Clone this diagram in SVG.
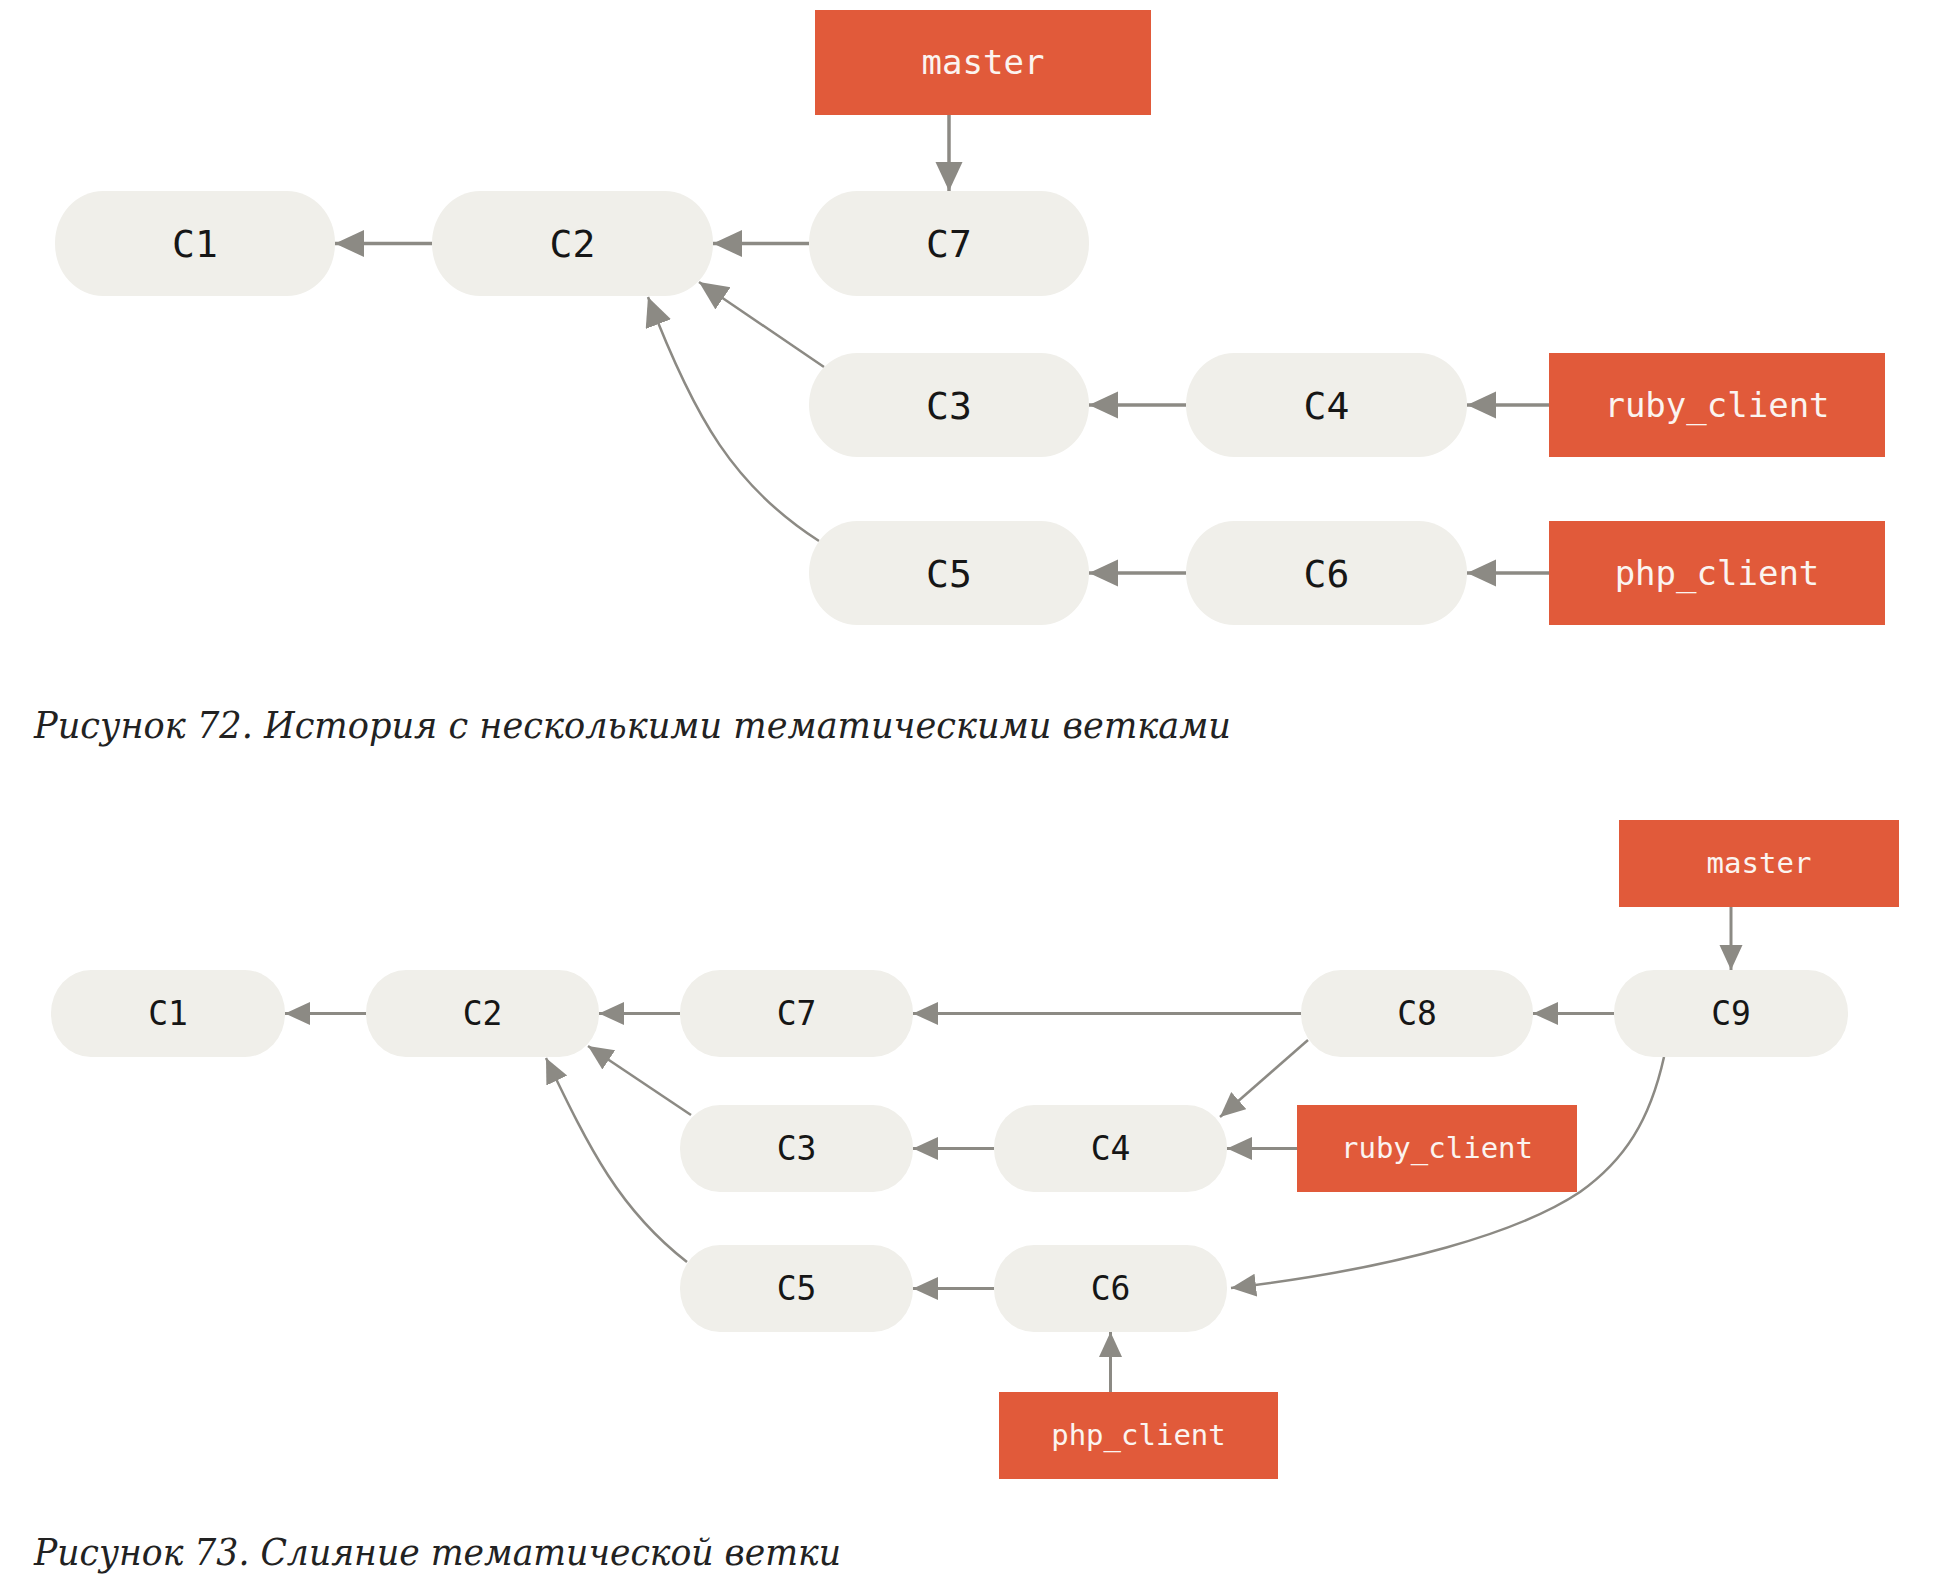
<svg xmlns="http://www.w3.org/2000/svg" width="1940" height="1588" viewBox="0 0 1940 1588">
<style>
.bg{fill:#ffffff}
.commit{fill:#f0efea}
.branch{fill:#e15a3a}
.ct{font-family:"DejaVu Sans Mono","Liberation Mono",monospace;fill:#161616;text-anchor:middle}
.bt{font-family:"DejaVu Sans Mono","Liberation Mono",monospace;fill:#fbf4f0;text-anchor:middle}
.t1{font-size:38px}
.b1{font-size:34px}
.t2{font-size:33px}
.b2{font-size:29px}
.cap{font-family:"DejaVu Serif","Liberation Serif",serif;font-style:italic;fill:#222222;font-size:38px}
.e1{fill:none;stroke:#8c8a84;stroke-width:3.5;marker-end:url(#ah1)}
.e1c{fill:none;stroke:#8c8a84;stroke-width:2.5;marker-end:url(#ah1)}
.e2{fill:none;stroke:#8c8a84;stroke-width:3;marker-end:url(#ah2)}
.e2c{fill:none;stroke:#8c8a84;stroke-width:2.5;marker-end:url(#ah2)}
</style>
<defs>
<marker id="ah1" markerUnits="userSpaceOnUse" markerWidth="30" markerHeight="28" refX="29" refY="13.5" orient="auto" viewBox="0 0 30 28">
<path d="M0,0 L29,13.5 L0,27 z" fill="#8c8a84"/>
</marker>
<marker id="ah2" markerUnits="userSpaceOnUse" markerWidth="26" markerHeight="24" refX="25" refY="11.5" orient="auto" viewBox="0 0 26 24">
<path d="M0,0 L25,11.5 L0,23 z" fill="#8c8a84"/>
</marker>
</defs>
<rect class="bg" x="0" y="0" width="1940" height="1588"/>

<g id="connectors">
<!-- top figure -->
<path class="e1" d="M949,115 L949,191"/>
<path class="e1" d="M432,243.5 L335,243.5"/>
<path class="e1" d="M809,243.5 L713,243.5"/>
<path class="e1c" d="M824,367 L699,282"/>
<path class="e1c" d="M819,541 C735,487 695,420 648,297"/>
<path class="e1" d="M1186,405 L1089,405"/>
<path class="e1" d="M1549,405 L1467,405"/>
<path class="e1" d="M1186,573 L1089,573"/>
<path class="e1" d="M1549,573 L1467,573"/>
<!-- bottom figure -->
<path class="e2" d="M1731,907 L1731,970"/>
<path class="e2" d="M366,1013.5 L285,1013.5"/>
<path class="e2" d="M680,1013.5 L599,1013.5"/>
<path class="e2" d="M1301,1013.5 L913,1013.5"/>
<path class="e2" d="M1614,1013.5 L1533,1013.5"/>
<path class="e2c" d="M1308,1040 L1220,1117"/>
<path class="e2c" d="M691,1115 L588,1046"/>
<path class="e2c" d="M687,1262 C620,1210 590,1150 546,1058"/>
<path class="e2" d="M994,1148.5 L913,1148.5"/>
<path class="e2" d="M1297,1148.5 L1227,1148.5"/>
<path class="e2" d="M994,1288.5 L913,1288.5"/>
<path class="e2c" d="M1664,1057 C1650,1120 1625,1160 1580,1192 C1520,1232 1400,1268 1231,1288"/>
<path class="e2" d="M1110.5,1392 L1110.5,1332"/>
</g>

<!-- top figure nodes -->
<g id="t-master"><rect class="branch" x="815" y="10" width="336" height="105"/><text class="bt b1" x="983" y="74">master</text></g>
<g id="t-C1"><rect class="commit" x="55" y="191" width="280" height="105" rx="48" ry="52"/><text class="ct t1" x="195" y="257">C1</text></g>
<g id="t-C2"><rect class="commit" x="432" y="191" width="281" height="105" rx="48" ry="52"/><text class="ct t1" x="572.5" y="257">C2</text></g>
<g id="t-C7"><rect class="commit" x="809" y="191" width="280" height="105" rx="48" ry="52"/><text class="ct t1" x="949" y="257">C7</text></g>
<g id="t-C3"><rect class="commit" x="809" y="353" width="280" height="104" rx="48" ry="52"/><text class="ct t1" x="949" y="419">C3</text></g>
<g id="t-C4"><rect class="commit" x="1186" y="353" width="281" height="104" rx="48" ry="52"/><text class="ct t1" x="1326.5" y="419">C4</text></g>
<g id="t-ruby_client"><rect class="branch" x="1549" y="353" width="336" height="104"/><text class="bt b1" x="1717" y="417">ruby_client</text></g>
<g id="t-C5"><rect class="commit" x="809" y="521" width="280" height="104" rx="48" ry="52"/><text class="ct t1" x="949" y="587">C5</text></g>
<g id="t-C6"><rect class="commit" x="1186" y="521" width="281" height="104" rx="48" ry="52"/><text class="ct t1" x="1326.5" y="587">C6</text></g>
<g id="t-php_client"><rect class="branch" x="1549" y="521" width="336" height="104"/><text class="bt b1" x="1717" y="585">php_client</text></g>
<g id="caption1"><text class="cap" x="34" y="738" textLength="1197" lengthAdjust="spacingAndGlyphs">Рисунок 72. История с несколькими тематическими ветками</text></g>

<!-- bottom figure nodes -->
<g id="b-master"><rect class="branch" x="1619" y="820" width="280" height="87"/><text class="bt b2" x="1759" y="873">master</text></g>
<g id="b-C1"><rect class="commit" x="51" y="970" width="234" height="87" rx="40" ry="43"/><text class="ct t2" x="168" y="1025">C1</text></g>
<g id="b-C2"><rect class="commit" x="366" y="970" width="233" height="87" rx="40" ry="43"/><text class="ct t2" x="482.5" y="1025">C2</text></g>
<g id="b-C7"><rect class="commit" x="680" y="970" width="233" height="87" rx="40" ry="43"/><text class="ct t2" x="796.5" y="1025">C7</text></g>
<g id="b-C8"><rect class="commit" x="1301" y="970" width="232" height="87" rx="40" ry="43"/><text class="ct t2" x="1417" y="1025">C8</text></g>
<g id="b-C9"><rect class="commit" x="1614" y="970" width="234" height="87" rx="40" ry="43"/><text class="ct t2" x="1731" y="1025">C9</text></g>
<g id="b-C3"><rect class="commit" x="680" y="1105" width="233" height="87" rx="40" ry="43"/><text class="ct t2" x="796.5" y="1160">C3</text></g>
<g id="b-C4"><rect class="commit" x="994" y="1105" width="233" height="87" rx="40" ry="43"/><text class="ct t2" x="1110.5" y="1160">C4</text></g>
<g id="b-ruby_client"><rect class="branch" x="1297" y="1105" width="280" height="87"/><text class="bt b2" x="1437" y="1158">ruby_client</text></g>
<g id="b-C5"><rect class="commit" x="680" y="1245" width="233" height="87" rx="40" ry="43"/><text class="ct t2" x="796.5" y="1300">C5</text></g>
<g id="b-C6"><rect class="commit" x="994" y="1245" width="233" height="87" rx="40" ry="43"/><text class="ct t2" x="1110.5" y="1300">C6</text></g>
<g id="b-php_client"><rect class="branch" x="999" y="1392" width="279" height="87"/><text class="bt b2" x="1138.5" y="1445">php_client</text></g>
<g id="caption2"><text class="cap" x="34" y="1565" textLength="807" lengthAdjust="spacingAndGlyphs">Рисунок 73. Слияние тематической ветки</text></g>
</svg>
